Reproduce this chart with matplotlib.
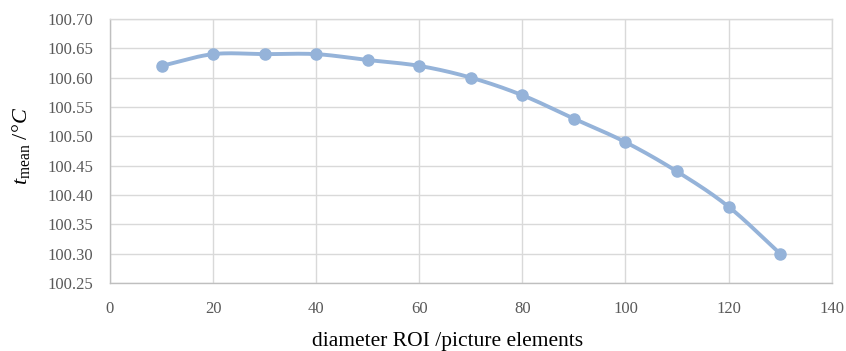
import numpy as np
import matplotlib
matplotlib.use('Agg')
import matplotlib.pyplot as plt

diameter = [10, 20, 30, 40, 50, 60, 70, 80, 90, 100, 110, 120, 130]
t_mean = [100.62, 100.64, 100.64, 100.64, 100.63, 100.62, 100.60,
          100.57, 100.53, 100.49, 100.44, 100.38, 100.30]
xticks = [0, 20, 40, 60, 80, 100, 120, 140]
yticks = [100.25, 100.30, 100.35, 100.40, 100.45, 100.50, 100.55,
          100.60, 100.65, 100.70]

plt.rcParams['font.family'] = 'Liberation Serif'
plt.rcParams['mathtext.fontset'] = 'custom'
plt.rcParams['mathtext.rm'] = 'Liberation Serif'
plt.rcParams['mathtext.it'] = 'Liberation Serif:italic'


def smooth(x, y, n=20):
    # catmull-rom style smoothing like excel's smoothed line
    x = np.asarray(x, float)
    y = np.asarray(y, float)
    px = np.concatenate([[2 * x[0] - x[1]], x, [2 * x[-1] - x[-2]]])
    py = np.concatenate([[2 * y[0] - y[1]], y, [2 * y[-1] - y[-2]]])
    xs, ys = [], []
    t = np.linspace(0, 1, n, endpoint=False)
    for i in range(1, len(px) - 2):
        for p, out in ((px, xs), (py, ys)):
            p0, p1, p2, p3 = p[i - 1], p[i], p[i + 1], p[i + 2]
            out.extend(0.5 * ((2 * p1) + (-p0 + p2) * t
                              + (2 * p0 - 5 * p1 + 4 * p2 - p3) * t ** 2
                              + (-p0 + 3 * p1 - 3 * p2 + p3) * t ** 3))
    xs.append(x[-1])
    ys.append(y[-1])
    return xs, ys


fig = plt.figure(figsize=(8.46, 3.51), dpi=100)
ax = fig.add_axes([0.130, 0.194, 0.853, 0.752])

color = '#95B3D9'
sx, sy = smooth(diameter, t_mean)
ax.plot(sx, sy, color=color, lw=2.8, solid_capstyle='round', zorder=3)
ax.plot(diameter, t_mean, 'o', color=color, ms=8, zorder=4)

ax.set_xlim(0, 140)
ax.set_ylim(100.25, 100.70)
ax.set_xticks(xticks)
ax.set_yticks(yticks)
ax.set_yticklabels(['%.2f' % v for v in yticks])
ax.grid(True, color='#D9D9D9', lw=1.0)
ax.set_axisbelow(True)
for s in ax.spines.values():
    s.set_color('#D9D9D9')
    s.set_linewidth(1.0)
ax.spines['left'].set_color('#BFBFBF')
ax.spines['bottom'].set_color('#BFBFBF')
ax.tick_params(length=0, labelsize=12, labelcolor='#595959')
ax.tick_params(axis='x', pad=13)
ax.tick_params(axis='y', pad=12)

ax.set_xlabel('diameter ROI /picture elements', fontsize=15.5)
ax.set_ylabel(r'$t_{\mathrm{mean}}$ /$\mathit{°C}$', fontsize=16)
ax.xaxis.set_label_coords(0.468, -0.185)
ax.yaxis.set_label_coords(-0.108, 0.519)

fig.savefig('out.png', dpi=100)
